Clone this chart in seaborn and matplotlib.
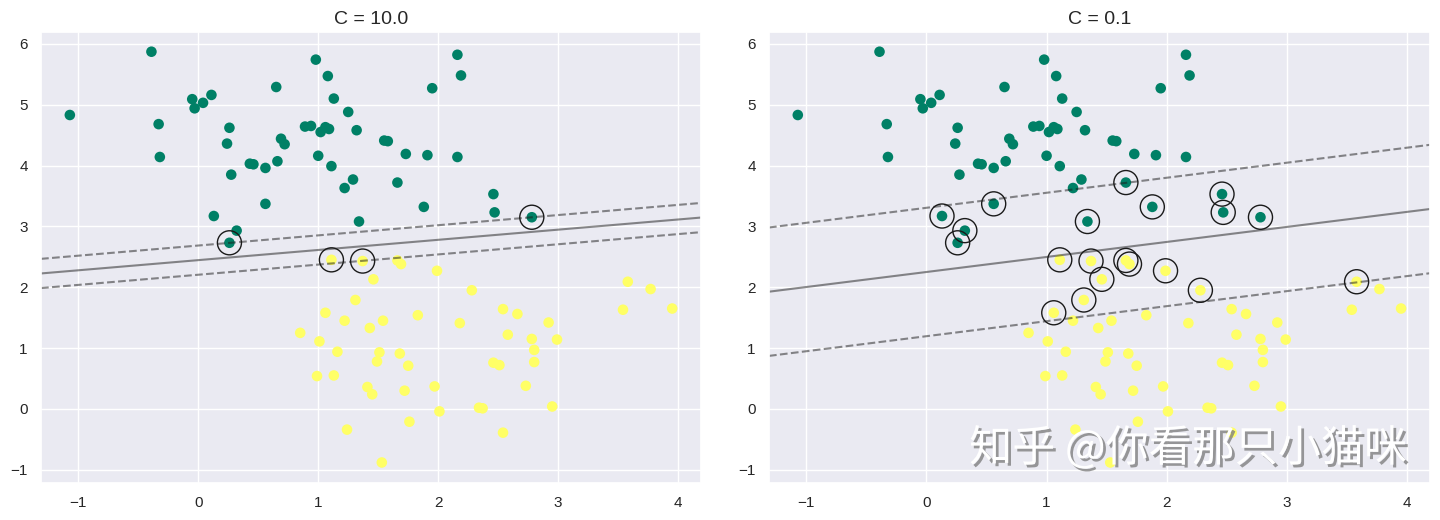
import numpy as np
import matplotlib
matplotlib.use("Agg")
import matplotlib.pyplot as plt
import matplotlib.patheffects as pe
import seaborn as sns

sns.set_theme(style="darkgrid")
plt.rcParams['font.family'] = ['Liberation Sans', 'DejaVu Sans']

# class 0 points (green)
green_x = [-1.07, -0.39, -0.33, -0.32, -0.05, -0.03, 0.04, 0.11, 0.26, 0.24,
           0.275, 0.13, 0.32, 0.26, 0.43, 0.46, 0.56, 0.56, 0.65, 0.66,
           0.69, 0.72, 0.89, 0.94, 0.98, 1.00, 1.02, 1.06, 1.09, 1.08,
           1.11, 1.13, 1.25, 1.32, 1.22, 1.29, 1.34, 2.16, 2.19, 1.95,
           1.55, 1.58, 1.73, 1.91, 2.16, 1.66, 1.88, 2.46, 2.47, 2.78]
green_y = [4.83, 5.87, 4.68, 4.14, 5.09, 4.94, 5.03, 5.16, 4.62, 4.36,
           3.85, 3.17, 2.93, 2.73, 4.03, 4.02, 3.96, 3.37, 5.29, 4.07,
           4.44, 4.35, 4.64, 4.65, 5.74, 4.16, 4.55, 4.63, 4.60, 5.47,
           3.99, 5.10, 4.88, 4.58, 3.63, 3.77, 3.08, 5.82, 5.48, 5.27,
           4.41, 4.40, 4.19, 4.17, 4.14, 3.72, 3.32, 3.53, 3.23, 3.15]

# class 1 points (yellow)
yellow_x = [1.11, 1.31, 1.06, 1.22, 0.85, 1.01, 1.16, 0.99, 1.13, 1.24,
            1.37, 1.66, 1.69, 1.46, 1.99, 2.28, 1.83, 1.54, 1.43, 2.18,
            2.54, 2.66, 2.92, 2.58, 2.78, 2.99, 2.80, 2.80, 1.51, 1.49,
            1.68, 1.75, 2.46, 2.51, 1.41, 1.45, 1.72, 1.97, 2.73, 2.01,
            2.34, 2.37, 2.95, 1.76, 2.54, 1.53, 3.58, 3.77, 3.54, 3.95]
yellow_y = [2.45, 1.79, 1.58, 1.45, 1.25, 1.11, 0.94, 0.54, 0.55, -0.34,
            2.43, 2.44, 2.38, 2.13, 2.27, 1.95, 1.54, 1.45, 1.33, 1.41,
            1.64, 1.56, 1.42, 1.22, 1.15, 1.14, 0.97, 0.77, 0.93, 0.78,
            0.91, 0.71, 0.76, 0.72, 0.36, 0.24, 0.30, 0.37, 0.38, -0.04,
            0.02, 0.01, 0.04, -0.21, -0.39, -0.88, 2.09, 1.97, 1.63, 1.65]

# fitted models: boundary slope, intercept, margin (vertical half-width)
C_values = [10.0, 0.1]
slopes = [0.167, 0.247]
intercepts = [2.445, 2.25]
margins = [0.24, 1.055]

# support vectors
sv_c10_x = [0.26, 1.11, 1.37, 2.78]
sv_c10_y = [2.73, 2.45, 2.43, 3.15]
sv_c01_x = [0.13, 0.32, 0.26, 0.56, 1.34, 1.66, 1.88, 2.46, 2.47, 2.78,
            1.11, 1.37, 1.46, 1.66, 1.69, 1.99, 2.28, 1.31, 1.06, 3.58]
sv_c01_y = [3.17, 2.93, 2.73, 3.37, 3.08, 3.72, 3.32, 3.53, 3.23, 3.15,
            2.45, 2.43, 2.13, 2.44, 2.38, 2.27, 1.95, 1.79, 1.58, 2.09]
sv_x = [sv_c10_x, sv_c01_x]
sv_y = [sv_c10_y, sv_c01_y]

x_all = np.array(green_x + yellow_x)
y_all = np.array(green_y + yellow_y)
labels = np.array([0] * len(green_x) + [1] * len(yellow_x))
palette = {0: "#008066", 1: "#ffff66"}

fig = plt.figure(figsize=(14.4, 5.2), dpi=100)
ax1 = fig.add_axes([0.0285, 0.072, 0.4583, 0.866])
ax2 = fig.add_axes([0.534, 0.072, 0.4590, 0.866])

xlim = (-1.31, 4.19)
ylim = (-1.21, 6.19)

for ax, C, m, b, d, sx, sy in zip([ax1, ax2], C_values, slopes, intercepts,
                                  margins, sv_x, sv_y):
    sns.scatterplot(x=x_all, y=y_all, hue=labels, palette=palette, s=58,
                    edgecolor="none", legend=False, ax=ax)
    # decision function contours
    xx = np.linspace(xlim[0], xlim[1], 30)
    yy = np.linspace(ylim[0], ylim[1], 30)
    X, Y = np.meshgrid(xx, yy)
    P = (Y - (m * X + b)) / d
    ax.contour(X, Y, P, colors="k", levels=[-1, 0, 1], alpha=0.5,
               linestyles=["--", "-", "--"], linewidths=1.5)
    ax.scatter(sx, sy, s=300, linewidth=1, facecolors="none", edgecolors="k")
    ax.set_xlim(xlim)
    ax.set_ylim(ylim)
    ax.set_xticks(range(-1, 5))
    ax.set_yticks(range(-1, 7))
    ax.tick_params(labelsize=11)
    ax.set_title(f"C = {C:.1f}", fontsize=14)

fig.text(0.673, 0.113, "知乎 @你看那只小猫咪", fontsize=31, color="white",
         family=["Noto Sans CJK SC", "DejaVu Sans"],
         path_effects=[pe.withSimplePatchShadow(offset=(2, -2),
                                                shadow_rgbFace="gray", alpha=0.8)])

fig.savefig("out.png", dpi=100)
